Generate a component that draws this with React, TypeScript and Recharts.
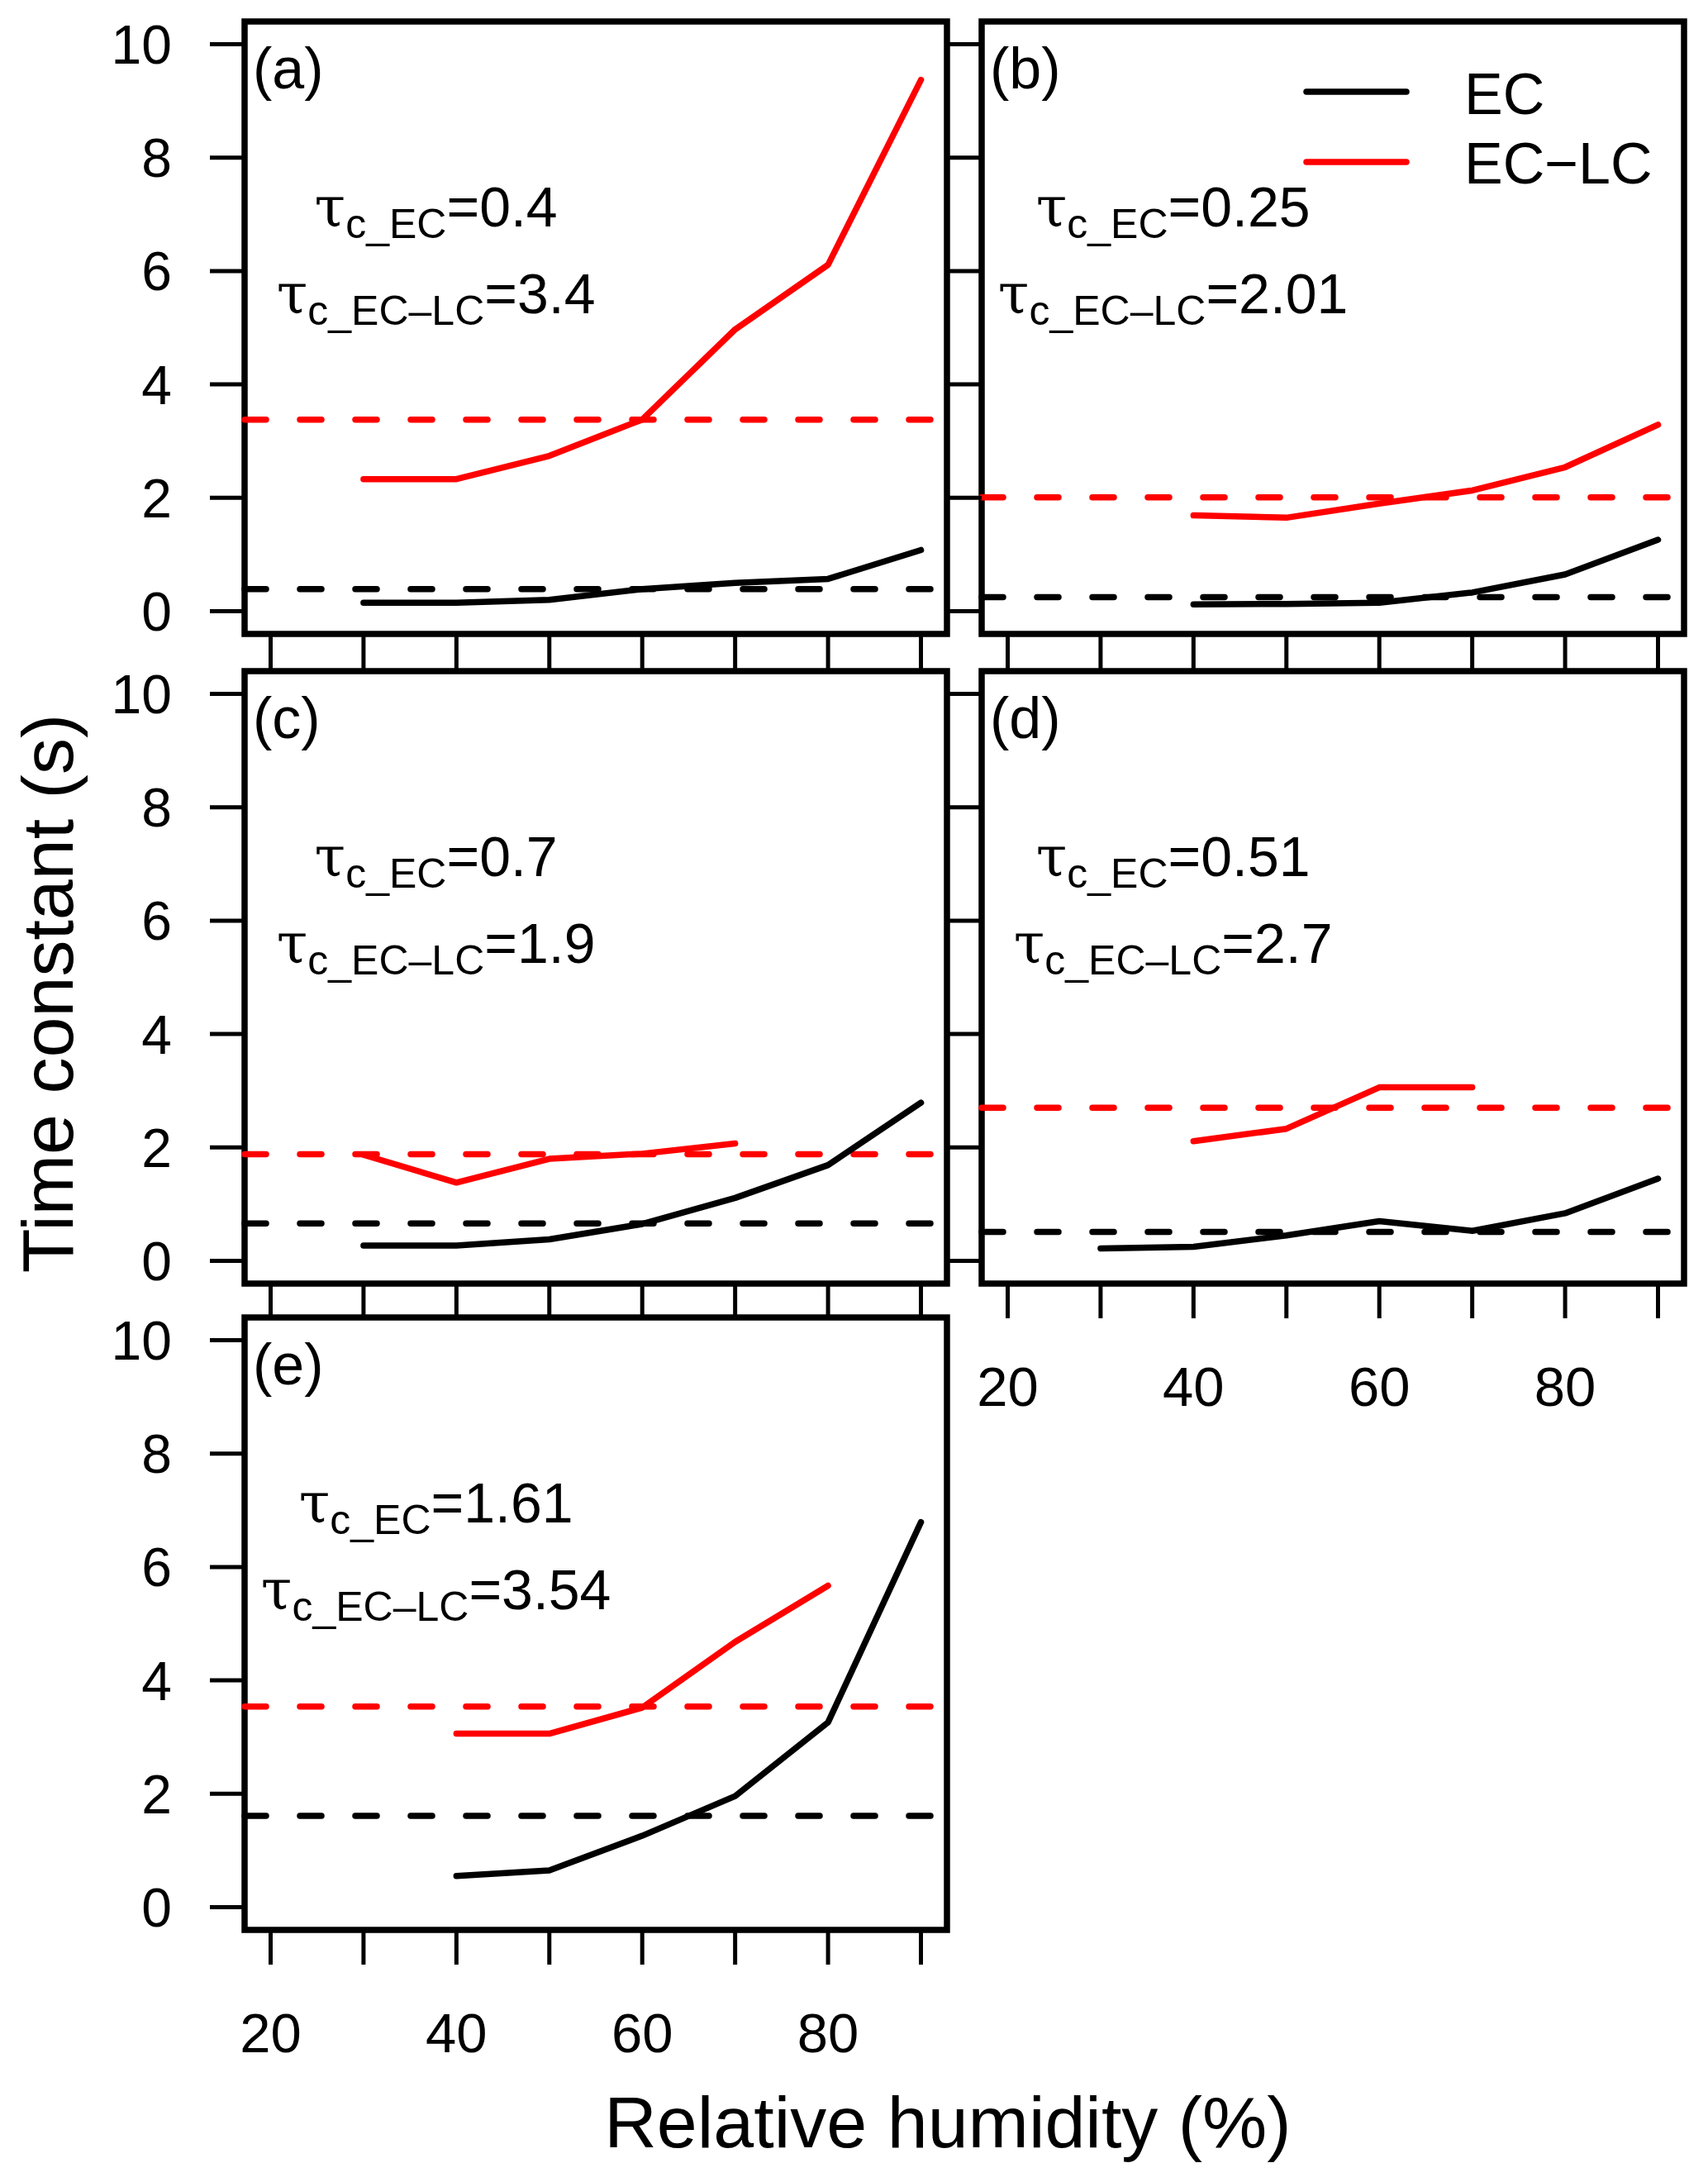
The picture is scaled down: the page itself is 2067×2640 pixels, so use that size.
import React from "react";
import {
  LineChart,
  Line,
  XAxis,
  YAxis,
  ReferenceLine,
  ReferenceArea,
  ReferenceDot,
  Legend,
} from "recharts";

// relative humidity steps (%)
const RH = [30, 40, 50, 60, 70, 80, 90];
const RH_TICKS = [20, 30, 40, 50, 60, 70, 80, 90];
const TC_TICKS = [0, 2, 4, 6, 8, 10];

// time constants (s) per panel, null = not measured
const EC_A = [0.15, 0.15, 0.2, 0.39, 0.5, 0.57, 1.08];
const ECLC_A = [2.33, 2.33, 2.74, 3.38, 4.97, 6.11, 9.37];
const EC_B = [null, 0.12, 0.13, 0.15, 0.33, 0.65, 1.26];
const ECLC_B = [null, 1.69, 1.65, 1.9, 2.13, 2.54, 3.29];
const EC_C = [0.27, 0.27, 0.38, 0.65, 1.11, 1.69, 2.79];
const ECLC_C = [1.87, 1.38, 1.8, 1.89, 2.07, null, null];
const EC_D = [0.22, 0.25, 0.45, 0.7, 0.53, 0.84, 1.45];
const ECLC_D = [null, 2.11, 2.33, 3.06, 3.06, null, null];
const EC_E = [null, 0.55, 0.65, 1.26, 1.96, 3.26, 6.79];
const ECLC_E = [null, 3.06, 3.06, 3.52, 4.68, 5.67, null];

// fitted constants (dashed lines) and their printed values
const MEAN_EC = [0.39, 0.25, 0.66, 0.51, 1.61];
const MEAN_ECLC = [3.38, 2.01, 1.88, 2.7, 3.54];
const TAU_EC_TEXT = ["0.4", "0.25", "0.7", "0.51", "1.61"];
const TAU_ECLC_TEXT = ["3.4", "2.01", "1.9", "2.7", "3.54"];
const PANEL_TAGS = ["(a)", "(b)", "(c)", "(d)", "(e)"];

const EC_SERIES = [EC_A, EC_B, EC_C, EC_D, EC_E];
const ECLC_SERIES = [ECLC_A, ECLC_B, ECLC_C, ECLC_D, ECLC_E];

const FONT = "'Liberation Sans', Arial, sans-serif";
const SERIF = "'DejaVu Serif', 'Liberation Serif', serif";
const X_DOMAIN = [17.2, 92.8];
const Y_DOMAIN = [-0.4, 10.4];
const LW = 7.5;

// plot area geometry
const PLOT_W = 850;
const PLOT_H = 741;
const Y_AXIS_W = 250;
const X_AXIS_H = 210;
const TOP = 40;
const RIGHT = 40;
const COL_LEFT = [296, 1188];
const ROW_TOP = [26, 812, 1594];

const LAYOUT = [
  { row: 0, col: 0, xLabels: false, yLabels: true },
  { row: 0, col: 1, xLabels: false, yLabels: false },
  { row: 1, col: 0, xLabels: false, yLabels: true },
  { row: 1, col: 1, xLabels: true, yLabels: false },
  { row: 2, col: 0, xLabels: true, yLabels: true },
];

const ANNOT_X = 37.8;
const ANNOT_Y1 = 6.78;
const ANNOT_Y2 = 5.25;

const Annotation = ({ cx, cy, sub, value }: any) => (
  <text x={cx} y={cy} textAnchor="middle" fontFamily={FONT} fontSize={68} fill="#000">
    <tspan fontFamily={SERIF}>τ</tspan>
    <tspan fontSize={50} dy={14}>{sub}</tspan>
    <tspan dy={-14}>={value}</tspan>
  </text>
);

const LegendBox = (props: any) => {
  const items = props.payload || [];
  return (
    <svg width={450} height={180} style={{ overflow: "visible" }}>
      {items.map((item: any, i: number) => (
        <g key={item.value}>
          <line
            x1={13}
            x2={134}
            y1={45 + i * 85}
            y2={45 + i * 85}
            stroke={item.color}
            strokeWidth={LW}
            strokeLinecap="round"
          />
          <text x={204} y={72 + i * 84} fontFamily={FONT} fontSize={70} fill="#000">
            {item.value}
          </text>
        </g>
      ))}
    </svg>
  );
};

const Panel = ({ index }: { index: number }) => {
  const lay = LAYOUT[index];
  const data = RH.map((x, i) => ({
    x,
    ec: EC_SERIES[index][i],
    eclc: ECLC_SERIES[index][i],
  }));
  const left = COL_LEFT[lay.col] - Y_AXIS_W;
  const top = ROW_TOP[lay.row] - TOP;
  return (
    <div style={{ position: "absolute", left, top }}>
      <LineChart
        width={Y_AXIS_W + PLOT_W + RIGHT}
        height={TOP + PLOT_H + X_AXIS_H}
        data={data}
        margin={{ top: TOP, right: RIGHT, bottom: 0, left: 0 }}
      >
        <XAxis
          type="number"
          dataKey="x"
          domain={X_DOMAIN}
          ticks={RH_TICKS}
          interval={0}
          allowDataOverflow
          axisLine={false}
          tickLine={{ stroke: "#000", strokeWidth: 5 }}
          tickSize={42}
          tickMargin={58}
          height={X_AXIS_H}
          tick={{ fill: "#000", fontSize: 67, fontFamily: FONT }}
          tickFormatter={(v: number) => (lay.xLabels && v % 20 === 0 ? String(v) : "")}
        />
        <YAxis
          type="number"
          domain={Y_DOMAIN}
          ticks={TC_TICKS}
          interval={0}
          allowDataOverflow
          axisLine={false}
          tickLine={{ stroke: "#000", strokeWidth: 5 }}
          tickSize={42}
          tickMargin={46}
          width={Y_AXIS_W}
          tick={{ fill: "#000", fontSize: 66, fontFamily: FONT }}
          tickFormatter={(v: number) => (lay.yLabels ? String(v) : "")}
        />
        <ReferenceArea
          x1={X_DOMAIN[0]}
          x2={X_DOMAIN[1]}
          y1={Y_DOMAIN[0]}
          y2={Y_DOMAIN[1]}
          fill="none"
          stroke="#000"
          strokeWidth={LW}
          ifOverflow="visible"
        />
        <ReferenceLine
          y={MEAN_ECLC[index]}
          stroke="#ff0000"
          strokeWidth={LW}
          strokeDasharray="26 41"
          strokeLinecap="round"
        />
        <ReferenceLine
          y={MEAN_EC[index]}
          stroke="#000"
          strokeWidth={LW}
          strokeDasharray="26 41"
          strokeLinecap="round"
        />
        <Line
          dataKey="ec"
          name="EC"
          stroke="#000"
          strokeWidth={LW}
          strokeLinecap="round"
          strokeLinejoin="round"
          dot={false}
          activeDot={false}
          isAnimationActive={false}
        />
        <Line
          dataKey="eclc"
          name="EC−LC"
          stroke="#ff0000"
          strokeWidth={LW}
          strokeLinecap="round"
          strokeLinejoin="round"
          dot={false}
          activeDot={false}
          isAnimationActive={false}
        />
        <ReferenceDot
          x={X_DOMAIN[0]}
          y={Y_DOMAIN[1]}
          r={1}
          ifOverflow="visible"
          shape={(p: any) => (
            <text x={p.cx + 10} y={p.cy + 81} fontFamily={FONT} fontSize={70} fill="#000">
              {PANEL_TAGS[index]}
            </text>
          )}
        />
        <ReferenceDot
          x={ANNOT_X}
          y={ANNOT_Y1}
          r={1}
          ifOverflow="visible"
          shape={(p: any) => (
            <Annotation cx={p.cx} cy={p.cy} sub="c_EC" value={TAU_EC_TEXT[index]} />
          )}
        />
        <ReferenceDot
          x={ANNOT_X}
          y={ANNOT_Y2}
          r={1}
          ifOverflow="visible"
          shape={(p: any) => (
            <Annotation cx={p.cx} cy={p.cy} sub="c_EC–LC" value={TAU_ECLC_TEXT[index]} />
          )}
        />
        {index === 1 && (
          <Legend
            layout="vertical"
            align="center"
            verticalAlign="middle"
            wrapperStyle={{ left: Y_AXIS_W + 380, top: TOP + 40, width: 450, height: 180 }}
            content={LegendBox}
          />
        )}
      </LineChart>
    </div>
  );
};

export default function App() {
  return (
    <div
      style={{
        position: "absolute",
        left: 0,
        top: 0,
        width: 2067,
        height: 2640,
        background: "#fff",
        overflow: "hidden",
      }}
    >
      {LAYOUT.map((_, i) => (
        <Panel key={i} index={i} />
      ))}
      <svg
        width={2067}
        height={2640}
        style={{ position: "absolute", left: 0, top: 0, pointerEvents: "none" }}
      >
        <text
          x={88}
          y={1202}
          transform="rotate(-90 88 1202)"
          textAnchor="middle"
          fontFamily={FONT}
          fontSize={88}
          fill="#000"
        >
          Time constant (s)
        </text>
        <text x={1147} y={2598} textAnchor="middle" fontFamily={FONT} fontSize={88} fill="#000">
          Relative humidity (%)
        </text>
      </svg>
    </div>
  );
}
